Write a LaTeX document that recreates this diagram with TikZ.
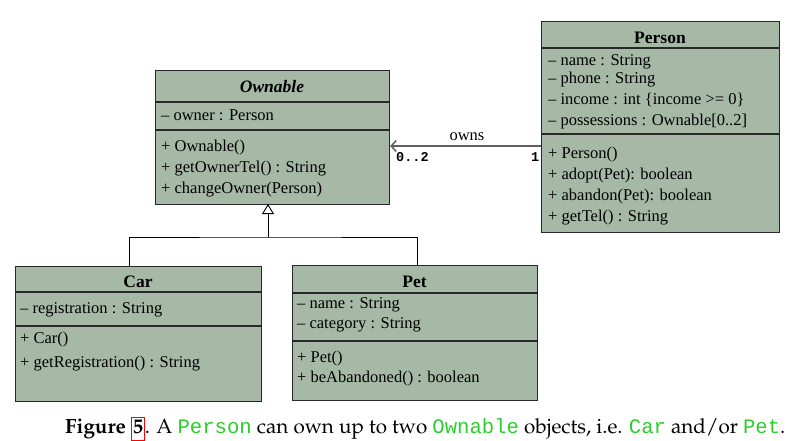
\documentclass[tikz,border=0pt]{standalone}
\usepackage[T1]{fontenc}
\usepackage{fontspec}
\setmainfont{Liberation Serif}
\newfontfamily\umlmono{Liberation Mono}
\usetikzlibrary{arrows.meta}
\definecolor{umlfill}{RGB}{165,185,166}
\definecolor{umlline}{RGB}{40,40,40}
\definecolor{assocgray}{RGB}{95,95,95}
\definecolor{capgreen}{RGB}{45,205,45}
\tikzset{
  umlbox/.style={draw=umlline, line width=1.2pt, fill=umlfill, inner sep=0pt, anchor=north west},
  sepline/.style={draw=umlline, line width=1.2pt},
  member/.style={anchor=base west, inner sep=0pt, font=\fontsize{16.5}{19}\selectfont},
  umltitle/.style={anchor=base, inner sep=0pt, font=\fontsize{17.5}{20}\selectfont\bfseries},
  multlabel/.style={anchor=base west, inner sep=0pt, font=\umlmono\bfseries\fontsize{13.5}{15}\selectfont},
  genline/.style={draw=black, line width=0.9pt},
  assoc/.style={draw=assocgray, line width=1.5pt, -{Straight Barb[length=5pt,width=11pt]}},
  caption/.style={anchor=base west, inner sep=0pt}
}
\newcommand{\capcode}[1]{{\umlmono\fontsize{20.6}{24}\selectfont\color{capgreen}#1}}
\begin{document}
\begin{tikzpicture}[x=1pt,y=-1pt]
\useasboundingbox (0,0) rectangle (798,440);

% ---------- Person ----------
\node[umlbox, minimum width=238pt, minimum height=211pt] (person) at (541,21) {};
\draw[sepline] (541,48) -- (779,48);
\draw[sepline] (541,134) -- (779,134);
\node[umltitle] (pT) at (660,43) {Person};
\node[member] (p1) at (548,65) {– name : String};
\node[member] (p2) at (548,83) {– phone : String};
\node[member] (p3) at (548,104) {– income : int \{income >= 0\}};
\node[member] (p4) at (548,125) {– possessions : Ownable[0..2]};
\node[member] (p5) at (548,158) {+ Person()};
\node[member] (p6) at (548,179) {+ adopt(Pet): boolean};
\node[member] (p7) at (548,200) {+ abandon(Pet): boolean};
\node[member] (p8) at (548,221) {+ getTel() : String};

% ---------- Ownable ----------
\node[umlbox, minimum width=234pt, minimum height=134pt] (ownable) at (155,70) {};
\draw[sepline] (155,102) -- (389,102);
\draw[sepline] (155,130) -- (389,130);
\node[umltitle, font=\fontsize{17.5}{20}\selectfont\bfseries\itshape] (oT) at (272,92) {Ownable};
\node[member] (o1) at (161,120) {– owner : Person};
\node[member] (o2) at (161,151) {+ Ownable()};
\node[member] (o3) at (161,172) {+ getOwnerTel() : String};
\node[member] (o4) at (161,193) {+ changeOwner(Person)};

% ---------- Car ----------
\node[umlbox, minimum width=246pt, minimum height=135pt] (car) at (15,266) {};
\draw[sepline] (15,292) -- (261,292);
\draw[sepline] (15,326) -- (261,326);
\node[umltitle] (cT) at (138,287) {Car};
\node[member] (c1) at (20,313) {– registration : String};
\node[member] (c2) at (20,343) {+ Car()};
\node[member] (c3) at (20,367) {+ getRegistration() : String};

% ---------- Pet ----------
\node[umlbox, minimum width=245pt, minimum height=135pt] (pet) at (292,265) {};
\draw[sepline] (292,293) -- (537,293);
\draw[sepline] (292,341) -- (537,341);
\node[umltitle] (eT) at (414.5,287) {Pet};
\node[member] (e1) at (297,308) {– name : String};
\node[member] (e2) at (297,328) {– category : String};
\node[member] (e3) at (297,362) {+ Pet()};
\node[member] (e4) at (297,382) {+ beAbandoned() : boolean};

% ---------- association ----------
\coordinate (assocy) at (0,146);
\draw[assoc] (person.west |- assocy) -- (ownable.east |- assocy);
\node[anchor=base, inner sep=0pt, font=\fontsize{16.5}{19}\selectfont] (owns) at (467,140) {owns};
\node[multlabel] (m02) at (396,161) {0..2};
\node[multlabel] (m1) at (531,161) {1};

% ---------- generalization ----------
\coordinate (owntip) at (268,204);
\coordinate (genjoin) at (268,237);
\coordinate (cartop) at (129,266);
\coordinate (pettop) at (417,265);
\draw[genline] (cartop) |- (genjoin) -| (pettop);
\draw[genline, -{Triangle[open, length=10pt, width=12pt, fill=white]}] (genjoin) -- (owntip);

% ---------- caption ----------
\node[caption] (cap) at (65,433) {\fontencoding{T1}\fontfamily{ppl}\fontsize{20.6}{24}\selectfont
  \textbf{Figure} {\color{red}\fboxsep=1pt\fboxrule=0.8pt\fbox{\color{black}\vphantom{g}\textbf{5}}}. A
  \capcode{Person} can own up to two
  \capcode{Ownable} objects, i.e.
  \capcode{Car} and/or
  \capcode{Pet}.};
\end{tikzpicture}
\end{document}
